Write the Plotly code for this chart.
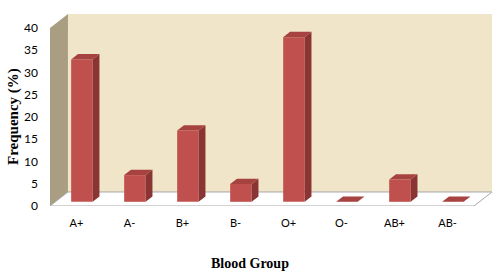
import plotly.graph_objects as go

categories = ["A+", "A-", "B+", "B-", "O+", "O-", "AB+", "AB-"]
frequency = [32, 6, 16, 4, 37, 0, 5, 0]
y_ticks = [0, 5, 10, 15, 20, 25, 30, 35, 40]

# 3D projection constants (in axis units)
N = len(categories)
YMAX = 40
DXF, DYF = 0.339, 3.15        # full depth offset of the box
F0, F1 = 0.30, 0.68           # bar front / back depth fractions
BW = 0.405                    # bar width (category units)

FRONT = "#c0504d"
SIDE = "#8a3533"
TOP = "#a6423f"

W, H = 500, 273
ML, MR, MT, MB = 50, 8, 14, 67

xs = list(range(N))
bx = [x + F0 * DXF for x in xs]
bbase = F0 * DYF
ddx = (F1 - F0) * DXF
ddy = (F1 - F0) * DYF

fig = go.Figure()

# walls and floor
x0, x1 = -0.5, N - 0.5
fig.add_shape(type="path", layer="below",
              path=f"M{x0},0 L{x0+DXF},{DYF} L{x0+DXF},{YMAX+DYF} L{x0},{YMAX} Z",
              fillcolor="#a99d82", line=dict(width=0))
fig.add_shape(type="rect", layer="below", x0=x0 + DXF, x1=x1 + DXF, y0=DYF, y1=YMAX + DYF,
              fillcolor="#f1e5c9", line=dict(width=0))
fig.add_shape(type="path", layer="below",
              path=f"M{x0},0 L{x1},0 L{x1+DXF},{DYF} L{x0+DXF},{DYF} Z",
              fillcolor="#ffffff", line=dict(color="#a6a6a6", width=1))

# side faces
sx, sy = [], []
for x, v in zip(bx, frequency):
    r = x + BW / 2
    sx += [r, r + ddx, r + ddx, r, r, None]
    sy += [bbase, bbase + ddy, bbase + v + ddy, bbase + v, bbase, None]
fig.add_trace(go.Scatter(x=sx, y=sy, fill="toself", fillcolor=SIDE, mode="lines",
                         line=dict(width=0), hoverinfo="skip", showlegend=False))
# top faces
tx, ty = [], []
for x, v in zip(bx, frequency):
    l, r = x - BW / 2, x + BW / 2
    t = bbase + v
    tx += [l, r, r + ddx, l + ddx, l, None]
    ty += [t, t, t + ddy, t + ddy, t, None]
fig.add_trace(go.Scatter(x=tx, y=ty, fill="toself", fillcolor=TOP, mode="lines",
                         line=dict(width=0), hoverinfo="skip", showlegend=False))
# front faces
fig.add_trace(go.Bar(x=bx, y=frequency, base=bbase, width=BW, marker=dict(color=FRONT, line=dict(width=0)),
                     showlegend=False))

# axis titles as annotations (paper coordinates from pixel positions)
fig.add_annotation(text="<b>Blood Group</b>", xref="paper", yref="paper",
                   x=(250 - ML) / (W - ML - MR), y=-(263 - (H - MB)) / (H - MT - MB),
                   showarrow=False, xanchor="center", yanchor="middle",
                   font=dict(family="Liberation Serif, serif", size=14, color="#000"))
fig.add_annotation(text="<b>Frequency (%)</b>", xref="paper", yref="paper", textangle=-90,
                   x=-(ML - 14) / (W - ML - MR), y=((H - MB) - 117) / (H - MT - MB),
                   showarrow=False, xanchor="center", yanchor="middle",
                   font=dict(family="Liberation Serif, serif", size=15, color="#000"))

fig.update_layout(
    width=W, height=H,
    margin=dict(l=ML, r=MR, t=MT, b=MB),
    paper_bgcolor="white", plot_bgcolor="rgba(0,0,0,0)",
    showlegend=False,
    xaxis=dict(range=[x0, x1 + DXF], tickvals=xs, ticktext=categories, automargin=False,
               showgrid=False, zeroline=False, showline=False, ticks="",
               ticklabelstandoff=9,
               tickfont=dict(family="Lato, Liberation Sans, sans-serif", size=11, color="#000")),
    yaxis=dict(range=[0, YMAX + DYF], tickvals=y_ticks, automargin=False,
               showgrid=False, zeroline=False, showline=False, ticks="",
               ticklabelstandoff=11,
               tickfont=dict(family="Lato, Liberation Sans, sans-serif", size=12, color="#000")),
)

fig.write_html("out.html", config={"displayModeBar": False},
               post_script="document.body.style.margin='0';document.body.style.overflow='hidden';")
